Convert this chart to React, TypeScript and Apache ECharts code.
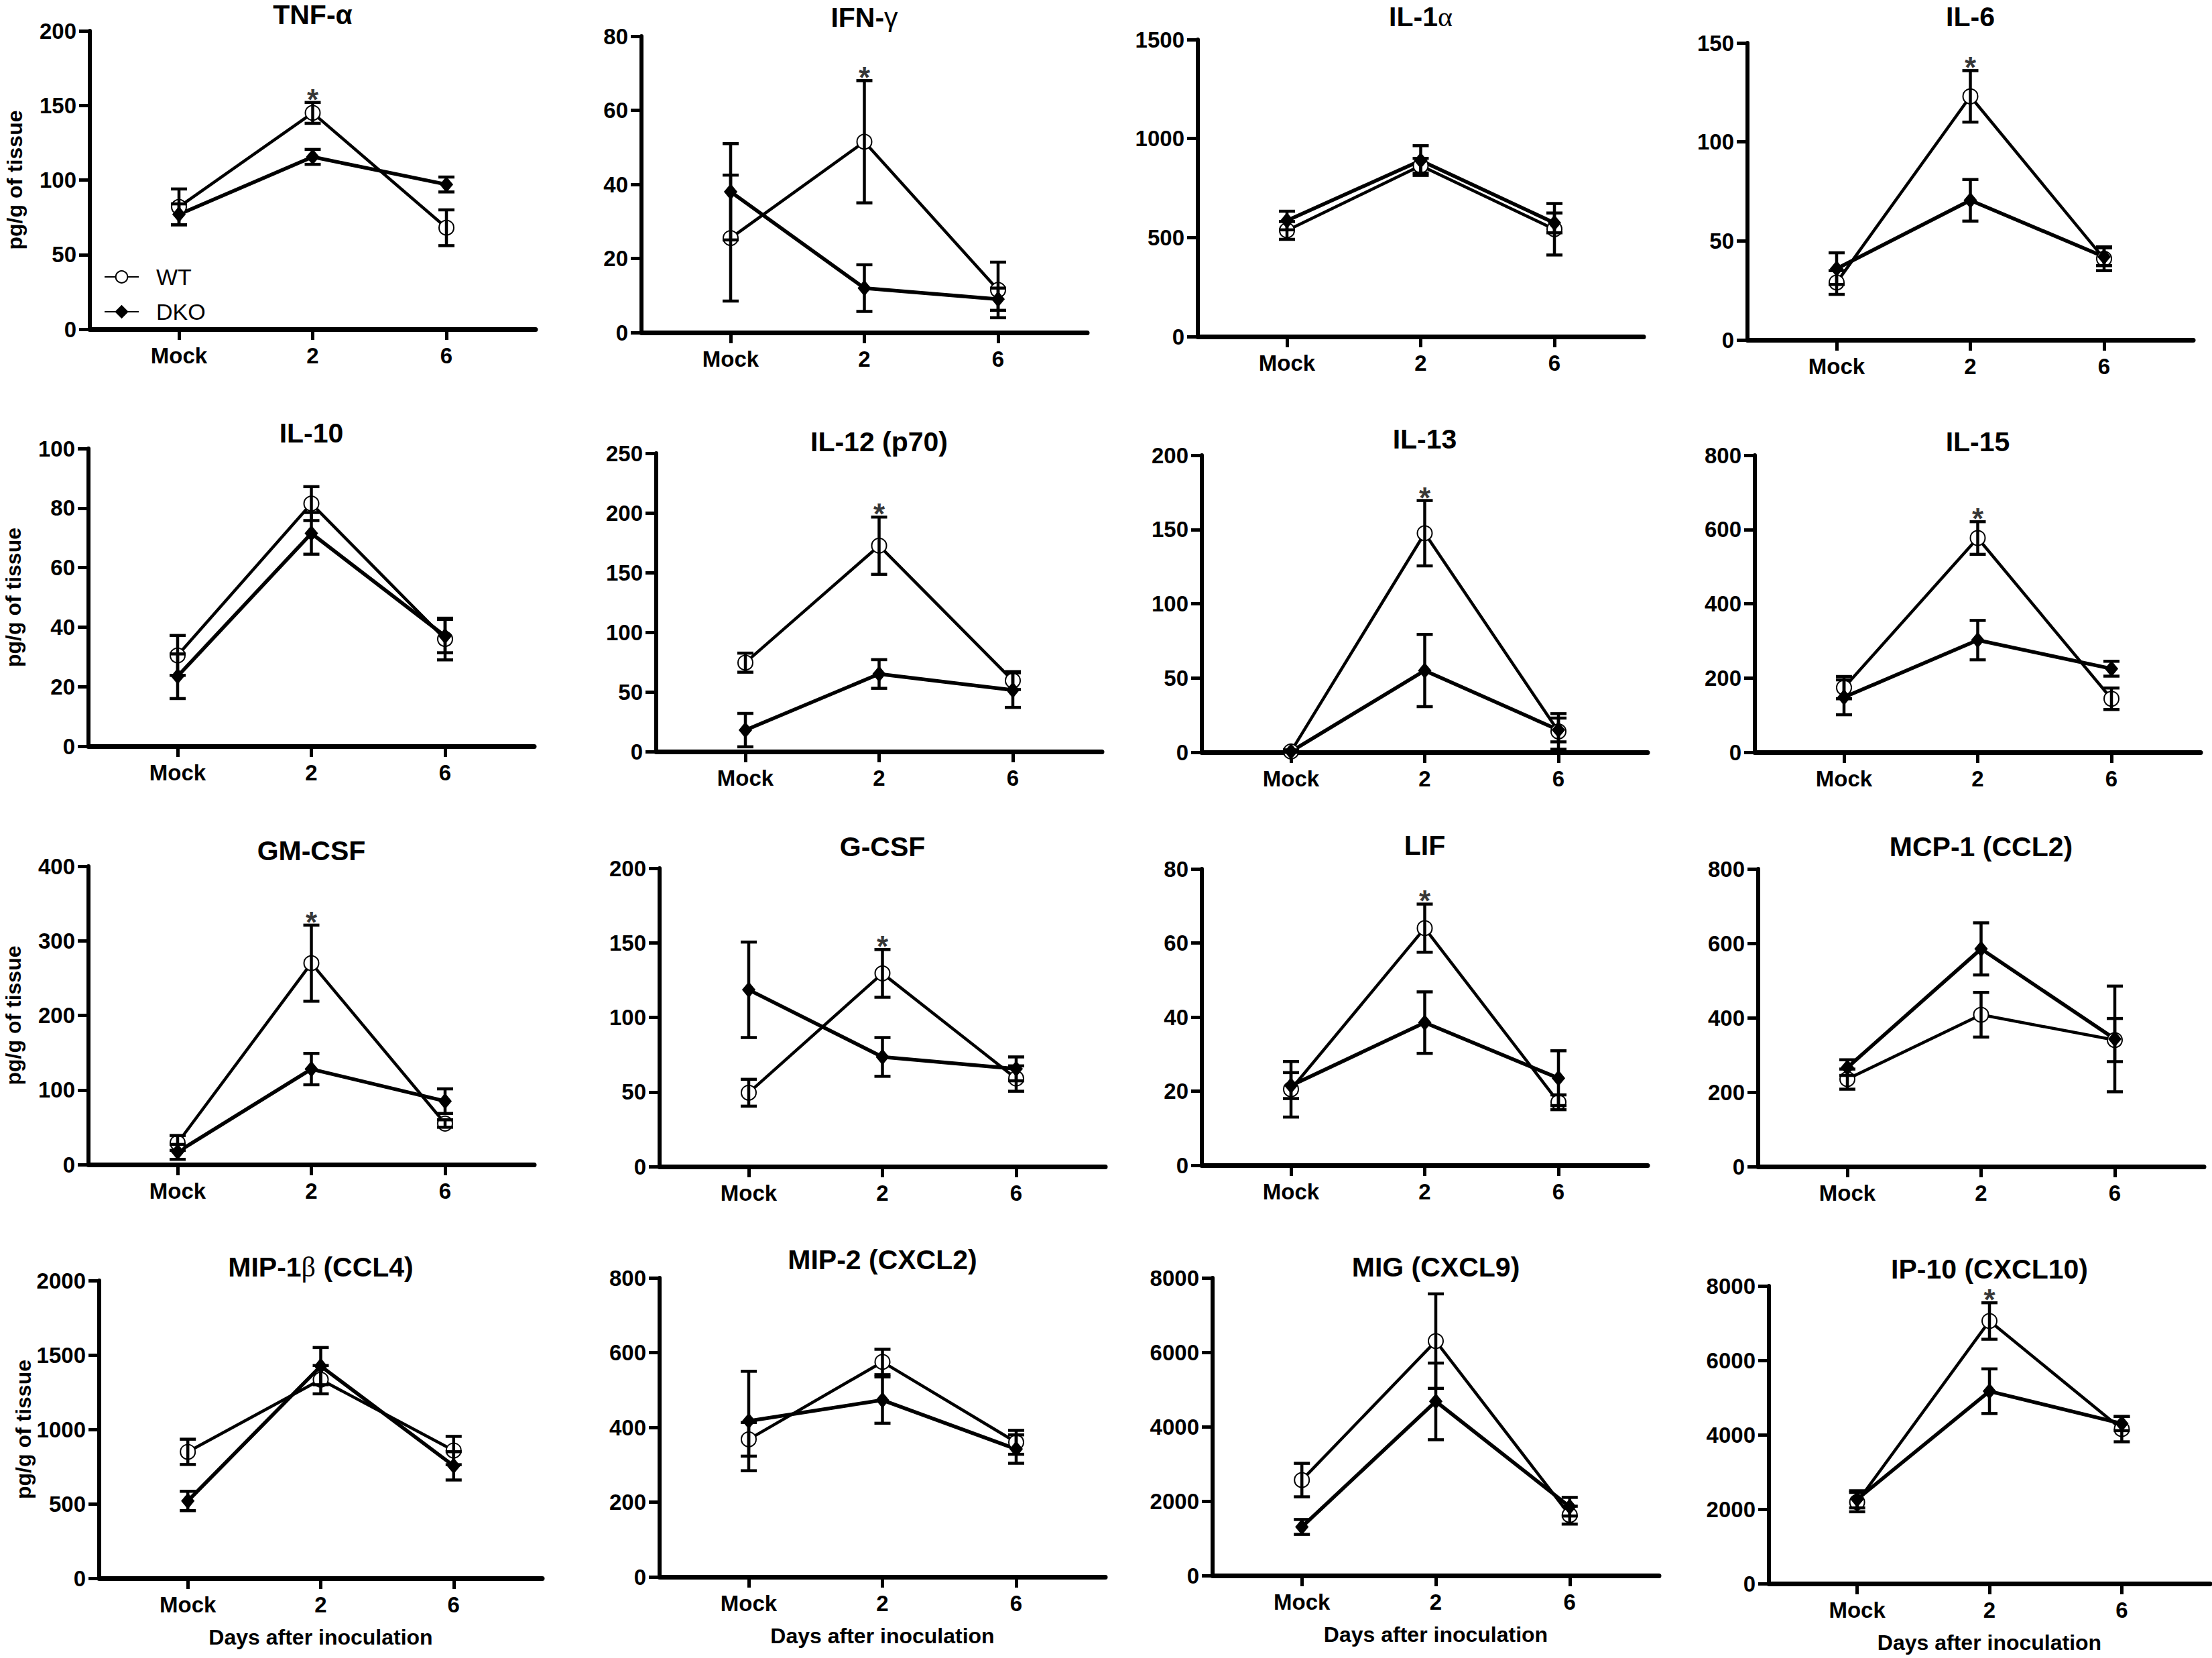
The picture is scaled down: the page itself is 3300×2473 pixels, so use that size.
import React, { useEffect, useRef } from "react";
import * as echarts from "echarts";

// ---------- data ----------
const panelTitles = [
  "TNF-α", "IFN-γ", "IL-1α", "IL-6",
  "IL-10", "IL-12 (p70)", "IL-13", "IL-15",
  "GM-CSF", "G-CSF", "LIF", "MCP-1 (CCL2)",
  "MIP-1β (CCL4)", "MIP-2 (CXCL2)", "MIG (CXCL9)", "IP-10 (CXCL10)",
];
const days = ["Mock", "2", "6"];
const yMax = [200, 80, 1500, 150, 100, 250, 200, 800, 400, 200, 80, 800, 2000, 800, 8000, 8000];
const yStep = [50, 20, 500, 50, 20, 50, 50, 200, 100, 50, 20, 200, 500, 200, 2000, 2000];

const wtMean = [
  [82, 145, 68], [25.5, 51.5, 11.5], [536, 863, 542], [29, 123, 41],
  [30.5, 81.5, 36], [74.5, 172.5, 59.5], [0.5, 147.5, 14], [174, 577, 144],
  [29, 270, 55], [49.5, 129.5, 59], [20.5, 64, 17], [235, 408, 340],
  [849, 1334, 858], [368, 575, 360], [2566, 6300, 1623], [2190, 7057, 4150],
];
const wtErr = [
  [12, 7, 12], [17, 16.5, 7.5], [45, 37, 130], [6, 13, 6],
  [6.7, 5.7, 7], [8, 24, 7.5], [1, 22, 12], [30, 44, 29],
  [10, 51, 5], [9, 16, 8.5], [7.5, 6.5, 2], [27, 60, 58],
  [85, 95, 95], [45, 34, 32], [450, 1270, 240], [260, 490, 340],
];
const dkoMean = [
  [77, 115.5, 97], [38, 12, 9], [586, 889, 574], [36, 70.5, 42],
  [23.5, 71.5, 37], [18, 65, 51.5], [0.5, 55, 15], [148, 302, 225],
  [17, 128, 85], [118.5, 73.5, 65.5], [21.5, 38.5, 23.5], [266, 585, 343],
  [519, 1425, 755], [417, 473, 342], [1306, 4680, 1850], [2265, 5170, 4300],
];
const dkoErr = [
  [7, 5, 5], [13, 6.3, 3], [47, 75, 50], [8, 10.5, 4.5],
  [7.5, 7, 5.6], [14, 12, 14.5], [1, 24.3, 8], [47, 53, 20],
  [10, 21, 16.5], [32, 13, 8], [3.5, 8.3, 7.4], [21, 70, 142],
  [65, 125, 95], [133, 62, 38], [200, 1030, 250], [230, 600, 190],
];
const starPanels = [0, 1, 3, 5, 6, 7, 8, 9, 10, 15];

// ---------- layout (pixels) ----------
const gridLeft = [134, 957, 1787, 2607, 132, 979, 1793, 2618, 132, 984, 1793, 2623, 148, 984, 1809, 2639];
const gridTop = [46, 54, 59, 64, 669, 676, 679, 679, 1292, 1295, 1296, 1296, 1910, 1906, 1906, 1918];
const gridBottomY = [491, 496, 502, 507, 1113, 1121, 1122, 1122, 1737, 1740, 1738, 1740, 2354, 2352, 2350, 2362];
const gridWidth = [665, 665, 665, 665, 665, 665, 665, 665, 665, 665, 665, 665, 661, 665, 666, 658];
const titleY = [22, 26, 25, 25, 646, 659, 655, 659, 1269, 1263, 1261, 1263, 1890, 1879, 1890, 1893];

const FONT = "'Liberation Sans', Arial, 'DejaVu Sans', sans-serif";
const SERIF = "'Liberation Serif', 'DejaVu Serif', serif";
const W = 3300;
const H = 2473;

function titleRich(t: string) {
  if (t.startsWith("TNF")) return t;
  return t.replace(/[αβ]/g, (m) => `{s|${m}}`).replace(/γ/g, (m) => `{g|${m}}`);
}

function buildOption() {
  const grid: any[] = [];
  const xAxis: any[] = [];
  const yAxis: any[] = [];
  const series: any[] = [];
  const title: any[] = [];

  panelTitles.forEach((t, i) => {
    const col = i % 4;
    const row = Math.floor(i / 4);
    grid.push({
      left: gridLeft[i],
      top: gridTop[i],
      width: gridWidth[i],
      height: gridBottomY[i] - gridTop[i],
      containLabel: false,
    });
    xAxis.push({
      type: "value",
      gridIndex: i,
      min: -0.6667,
      max: 2.6667,
      splitLine: { show: false },
      axisLine: { show: true, onZero: false, lineStyle: { color: "#000", width: 7 } },
      axisTick: {
        show: true,
        customValues: [0, 1, 2],
        length: 16,
        lineStyle: { color: "#000", width: 5 },
      },
      axisLabel: {
        show: true,
        customValues: [0, 1, 2],
        margin: 23,
        formatter: (v: number) => days[Math.round(v)] ?? "",
        color: "#000",
        fontFamily: FONT,
        fontWeight: "bold",
        fontSize: 33,
      },
      name: row === 3 ? "Days after inoculation" : "",
      nameLocation: "middle",
      nameGap: 72,
      nameTextStyle: { color: "#000", fontFamily: FONT, fontWeight: "bold", fontSize: 32 },
    });
    yAxis.push({
      type: "value",
      gridIndex: i,
      min: 0,
      max: yMax[i],
      interval: yStep[i],
      splitLine: { show: false },
      axisLine: { show: true, onZero: false, lineStyle: { color: "#000", width: 6 } },
      axisTick: { show: true, length: 16, lineStyle: { color: "#000", width: 5 } },
      axisLabel: {
        margin: 20,
        color: "#000",
        fontFamily: FONT,
        fontWeight: "bold",
        fontSize: 33,
        formatter: (v: number) => String(v),
      },
      name: col === 0 ? "pg/g of tissue" : "",
      nameLocation: "middle",
      nameRotate: 90,
      nameGap: 96,
      nameTextStyle: { color: "#000", fontFamily: FONT, fontWeight: "bold", fontSize: 32 },
    });
    title.push({
      text: titleRich(t),
      left: gridLeft[i] + gridWidth[i] / 2,
      top: titleY[i],
      textAlign: "center",
      textVerticalAlign: "middle",
      padding: 0,
      textStyle: {
        color: "#000",
        fontFamily: FONT,
        fontWeight: "bold",
        fontSize: 41,
        lineHeight: 36,
        rich: {
          s: { color: "#000", fontFamily: SERIF, fontWeight: "normal", fontSize: 42, lineHeight: 36 },
          g: { color: "#000", fontFamily: FONT, fontWeight: "normal", fontSize: 41, lineHeight: 36 },
        },
      },
    });

    const groups = [
      { name: "WT", mean: wtMean[i], err: wtErr[i], symbol: "emptyCircle", size: 22, lw: 4.5 },
      { name: "DKO", mean: dkoMean[i], err: dkoErr[i], symbol: "diamond", size: [15, 18], lw: 5.5 },
    ];
    groups.forEach((g) => {
      series.push({
        type: "line",
        name: g.name,
        xAxisIndex: i,
        yAxisIndex: i,
        data: g.mean.map((m, k) => [k, m]),
        symbol: g.symbol,
        symbolSize: g.size,
        showSymbol: true,
        clip: false,
        z: 2,
        lineStyle: { color: "#000", width: g.lw },
        itemStyle: { color: "#000", borderColor: "#000", borderWidth: 4 },
        emphasis: { disabled: true },
      });
      series.push({
        type: "custom",
        name: g.name + "-err",
        xAxisIndex: i,
        yAxisIndex: i,
        z: 5,
        clip: false,
        silent: true,
        data: g.mean.map((m, k) => [k, Math.max(0, m - g.err[k]), m + g.err[k]]),
        encode: { x: 0, y: [1, 2] },
        renderItem: (params: any, api: any) => {
          const lo = api.coord([api.value(0), api.value(1)]);
          const hi = api.coord([api.value(0), api.value(2)]);
          const hw = 12;
          const style = { stroke: "#000", lineWidth: 4.5, fill: "none" };
          return {
            type: "group",
            children: [
              { type: "line", shape: { x1: lo[0], y1: lo[1], x2: hi[0], y2: hi[1] }, style },
              { type: "line", shape: { x1: lo[0] - hw, y1: lo[1], x2: lo[0] + hw, y2: lo[1] }, style },
              { type: "line", shape: { x1: hi[0] - hw, y1: hi[1], x2: hi[0] + hw, y2: hi[1] }, style },
            ],
          };
        },
      });
    });

    if (starPanels.includes(i)) {
      series.push({
        type: "scatter",
        name: "star",
        xAxisIndex: i,
        yAxisIndex: i,
        symbolSize: 1,
        itemStyle: { color: "rgba(0,0,0,0)" },
        clip: false,
        silent: true,
        data: [[1, wtMean[i][1] + wtErr[i][1]]],
        label: {
          show: true,
          formatter: "*",
          position: "top",
          distance: -8,
          lineHeight: 24,
          color: "#000",
          fontFamily: FONT,
          fontWeight: "bold",
          fontSize: 44,
        },
      });
    }
  });

  return {
    animation: false,
    backgroundColor: "#fff",
    title,
    grid,
    xAxis,
    yAxis,
    series,
    legend: {
      data: ["WT", "DKO"],
      left: 150,
      top: 391,
      orient: "vertical",
      itemWidth: 51,
      itemHeight: 22,
      itemGap: 18,
      selectedMode: false,
      formatter: (n: string) => `{p|\u00a0}{t|${n}}`,
      textStyle: {
        color: "#000",
        fontFamily: FONT,
        fontSize: 34,
        lineHeight: 22,
        rich: {
          p: { width: 21, fontSize: 34, lineHeight: 22 },
          t: { color: "#000", fontFamily: FONT, fontSize: 34, lineHeight: 22 },
        },
      },
    },
  };
}

export default function App() {
  const ref = useRef<HTMLDivElement>(null);
  useEffect(() => {
    if (!ref.current) return;
    const chart = echarts.init(ref.current, undefined, { renderer: "svg" });
    chart.setOption(buildOption() as any);
    return () => chart.dispose();
  }, []);
  return (
    <div
      ref={ref}
      style={{ position: "absolute", left: 0, top: 0, width: W, height: H, background: "#fff" }}
    />
  );
}
